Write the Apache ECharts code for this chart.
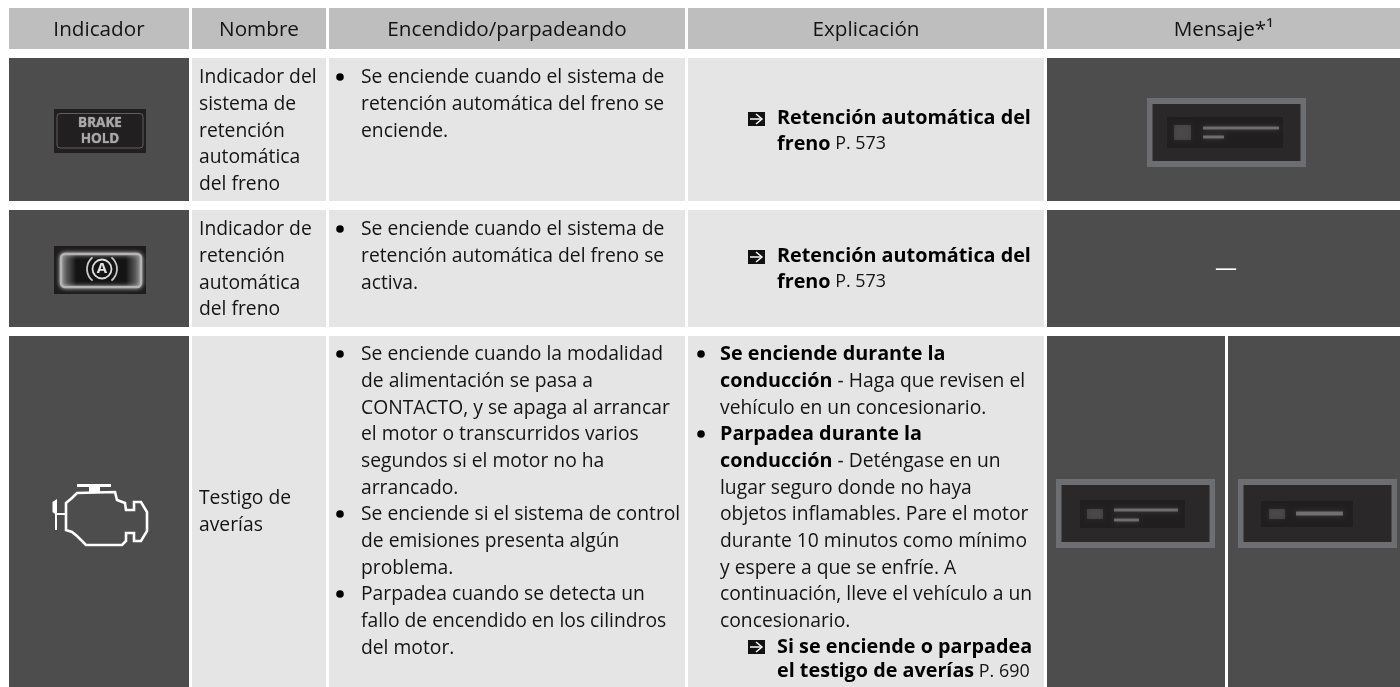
<!DOCTYPE html>
<html>
<head>
<meta charset="utf-8">
<style>html,body{margin:0;padding:0;background:#fff}#container{width:1400px;height:687px}</style>
<script src="https://cdn.jsdelivr.net/npm/echarts@6/dist/echarts.min.js"></script>
</head>
<body>
<div id="container"></div>
<script>
var headers = ["Indicador", "Nombre", "Encendido/parpadeando", "Explicación", "Mensaje*¹"];

var nameLines = [
    ["Indicador del", "sistema de", "retención", "automática", "del freno"],
    ["Indicador de", "retención", "automática", "del freno"],
    ["Testigo de", "averías"]
];

var conditionItems = [
    [["Se enciende cuando el sistema de", "retención automática del freno se", "enciende."]],
    [["Se enciende cuando el sistema de", "retención automática del freno se", "activa."]],
    [
        ["Se enciende cuando la modalidad", "de alimentación se pasa a", "CONTACTO, y se apaga al arrancar", "el motor o transcurridos varios", "segundos si el motor no ha", "arrancado."],
        ["Se enciende si el sistema de control", "de emisiones presenta algún", "problema."],
        ["Parpadea cuando se detecta un", "fallo de encendido en los cilindros", "del motor."]
    ]
];

var explanationRefs = [
    ["{b|Retención automática del}", "{b|freno}{s| P. 573}"],
    ["{b|Retención automática del}", "{b|freno}{s| P. 573}"]
];

var explanationItems = [
    ["{b|Se enciende durante la}", "{b|conducción}{n| - Haga que revisen el}", "{n|vehículo en un concesionario.}"],
    ["{b|Parpadea durante la}", "{b|conducción}{n| - Deténgase en un}", "{n|lugar seguro donde no haya}", "{n|objetos inflamables. Pare el motor}", "{n|durante 10 minutos como mínimo}", "{n|y espere a que se enfríe. A}", "{n|continuación, lleve el vehículo a un}", "{n|concesionario.}"]
];
var explanationRef3 = ["{b|Si se enciende o parpadea}", "{b|el testigo de averías}{s| P. 690}"];

var noMessage = "—";
var iconLabel = ["BRAKE", "HOLD"];
var iconLetter = "A";

// layout of the page, in pixels
var colX = [[9, 189], [192, 326], [329, 685], [688, 1044], [1047, 1400]];
var rowY = [[58, 201], [210, 327], [336, 687]];
var headY = [8, 49];
var lineH = 26.67;
var fontName = '"Open Sans"';
var textSize = 19.3;
var headSize = 20.7;
var textDrop = 0.7;

var dark = "#4d4d4d", light = "#e5e5e5", head = "#bebebe", ink = "#141414";
var frame = "#6d6e71", screen = "#2b2829", patch = "#201e1f";

var shapes = [];
var texts = [];

function box(x0, y0, x1, y1, fill) {
    shapes.push({kind: "rect", x0: x0, y0: y0, x1: x1, y1: y1, fill: fill});
}
function label(text, x, y, align, size, color, extra) {
    var t = {text: text, x: x, y: y, align: align || "left", size: size || textSize, color: color || ink};
    for (var k in extra) {
        t[k] = extra[k];
    }
    texts.push(t);
}
function bodyLabel(text, x, y) {
    label(text, x, y + textDrop);
}
function dot(x, y) {
    shapes.push({kind: "circle", x: x, y: y, r: 3.8, fill: "#000"});
}
function refArrow(x, y) {
    box(x, y, x + 17, y + 14, "#111");
    shapes.push({kind: "line", pts: [[x + 2, y + 7], [x + 14, y + 7]], stroke: "#fff", width: 1.5});
    shapes.push({kind: "line", pts: [[x + 8, y + 2], [x + 14, y + 7], [x + 8, y + 12]], stroke: "#fff", width: 1.5});
}
function messageFrame(x0, y0, x1, y1) {
    box(x0, y0, x1, y1, frame);
    box(x0 + 5.5, y0 + 6, x1 - 5.5, y1 - 6, screen);
}
function smudge(x0, y0, x1, y1, alpha) {
    shapes.push({kind: "rect", x0: x0, y0: y0, x1: x1, y1: y1, fill: "rgba(200,200,200," + alpha + ")", blur: 5, glow: "rgba(200,200,200,0.5)"});
}

// header and body cells
for (var c = 0; c < 5; c++) {
    box(colX[c][0], headY[0], colX[c][1], headY[1], head);
    label(headers[c], (colX[c][0] + colX[c][1]) / 2, 30.5, "center", headSize);
    for (var r = 0; r < 3; r++) {
        if (c == 4 && r == 2) {
            box(1047, rowY[r][0], 1225, rowY[r][1], dark);
            box(1228, rowY[r][0], 1400, rowY[r][1], dark);
        } else {
            box(colX[c][0], rowY[r][0], colX[c][1], rowY[r][1], (c == 0 || c == 4) ? dark : light);
        }
    }
}

// names
var nameTop = [77, 229, 498];
for (var i = 0; i < nameLines.length; i++) {
    for (var j = 0; j < nameLines[i].length; j++) {
        bodyLabel(nameLines[i][j], 199, nameTop[i] + j * lineH);
    }
}

// on / flashing column
var condTop = [77, 229, 354];
for (var i = 0; i < conditionItems.length; i++) {
    var n = 0;
    for (var j = 0; j < conditionItems[i].length; j++) {
        dot(340, condTop[i] + n * lineH);
        for (var k = 0; k < conditionItems[i][j].length; k++) {
            bodyLabel(conditionItems[i][j][k], 361, condTop[i] + n * lineH);
            n++;
        }
    }
}

// explanation column
var refTop = [118, 256];
for (var i = 0; i < explanationRefs.length; i++) {
    refArrow(748, refTop[i] - 6);
    bodyLabel(explanationRefs[i][0], 777, refTop[i]);
    bodyLabel(explanationRefs[i][1], 777, refTop[i] + 25.5);
}
var n = 0;
for (var i = 0; i < explanationItems.length; i++) {
    dot(701, 354 + n * lineH);
    for (var j = 0; j < explanationItems[i].length; j++) {
        bodyLabel(explanationItems[i][j], 720, 354 + n * lineH);
        n++;
    }
}
refArrow(748, 640);
bodyLabel(explanationRef3[0], 777, 647);
bodyLabel(explanationRef3[1], 777, 671);

// brake hold icon
box(54, 109, 146, 153, "#221f20");
shapes.push({kind: "round", x0: 57, y0: 113.5, x1: 143, y1: 148, r: 3, stroke: "#5f5f5f", width: 1});
label(iconLabel[0], 100, 123, "center", 13.5, "#a8a8a8", {bold: true, blur: 1});
label(iconLabel[1], 100, 139, "center", 13.5, "#a8a8a8", {bold: true, blur: 1});

// auto hold icon
box(54, 246, 146, 294, "#1e1c1d");
shapes.push({kind: "round", x0: 61, y0: 254, x1: 141, y1: 287, r: 4, stroke: "#b4b4b4", width: 2.5, blur: 4,
    fill: {type: "linear", x: 0, y: 0, x2: 1, y2: 0, colorStops: [
        {offset: 0, color: "#8a8a8a"}, {offset: 0.2, color: "#141414"}, {offset: 0.8, color: "#141414"}, {offset: 1, color: "#8a8a8a"}
    ]}});
shapes.push({kind: "circle", x: 102, y: 269, r: 9.5, stroke: "#dcdcdc", width: 1.8});
shapes.push({kind: "arc", x: 102, y: 269, r: 15, a0: 2.25, a1: 4.03, stroke: "#c8c8c8", width: 1.8});
shapes.push({kind: "arc", x: 102, y: 269, r: 15, a0: -0.89, a1: 0.89, stroke: "#c8c8c8", width: 1.8});
label(iconLetter, 102, 269, "center", 15, "#e4e4e4", {bold: true});

// engine icon
box(77, 484, 111, 487, "#fff");
box(89, 485, 100, 492, "#fff");
shapes.push({kind: "line", closed: true, stroke: "#fff", width: 2.6, pts: [
    [66, 503], [72, 498], [77, 493], [115, 492], [117, 500], [125, 503], [126, 510], [134, 510], [134, 502], [141, 502],
    [147, 512], [147, 531], [141, 541], [134, 541], [134, 533], [126, 533], [126, 541], [122, 545], [86, 545], [77, 536], [72, 532], [66, 530]
]});
shapes.push({kind: "poly", fill: "#fff", pts: [[52.5, 502], [57, 499], [57, 530], [55, 530], [55, 514], [52.5, 512]]});
box(55, 513, 65, 515, "#fff");

// message column
messageFrame(1147, 98, 1306, 167);
box(1167, 117, 1283, 148, patch);
smudge(1174, 125, 1191, 140, 0.18);
smudge(1203, 126.5, 1279, 129.5, 0.42);
smudge(1203, 135.5, 1224, 138.5, 0.42);
label(noMessage, 1226, 269, "center", 22, "#fff");
messageFrame(1056, 479, 1215, 548);
box(1080, 500, 1185, 528, patch);
smudge(1087, 509, 1103, 519, 0.18);
smudge(1114, 508.5, 1178, 511.5, 0.42);
smudge(1114, 518.5, 1139, 521.5, 0.42);
messageFrame(1238, 479, 1397, 548);
box(1261, 501, 1353, 527, patch);
smudge(1269, 509, 1285, 519, 0.18);
smudge(1296, 511.5, 1343, 515.5, 0.42);

function renderShape(params, api) {
    var s = shapes[params.dataIndex];
    var style = {fill: s.fill || "none", stroke: s.stroke || "none", lineWidth: s.width || 0};
    if (s.blur) {
        style.shadowBlur = s.blur;
        style.shadowColor = s.glow || s.stroke || s.fill;
    }
    if (s.kind == "rect" || s.kind == "round") {
        var a = api.coord([s.x0, s.y0]);
        var b = api.coord([s.x1, s.y1]);
        return {type: "rect", shape: {x: a[0], y: a[1], width: b[0] - a[0], height: b[1] - a[1], r: s.r || 0}, style: style};
    }
    if (s.kind == "circle") {
        var p = api.coord([s.x, s.y]);
        return {type: "circle", shape: {cx: p[0], cy: p[1], r: s.r}, style: style};
    }
    if (s.kind == "arc") {
        var p = api.coord([s.x, s.y]);
        return {type: "arc", shape: {cx: p[0], cy: p[1], r: s.r, startAngle: s.a0, endAngle: s.a1}, style: style};
    }
    var pts = s.pts.map(function (q) { return api.coord(q); });
    if (s.kind == "poly" || s.closed) {
        return {type: "polygon", shape: {points: pts}, style: style};
    }
    return {type: "polyline", shape: {points: pts}, style: style};
}

function renderText(params, api) {
    var t = texts[params.dataIndex];
    var p = api.coord([t.x, t.y]);
    var style = {
        x: p[0], y: p[1], text: t.text, align: t.align, verticalAlign: "middle",
        font: (t.bold ? "bold " : "") + t.size + "px " + fontName,
        fill: t.color,
        rich: {
            b: {fontFamily: fontName, fontSize: t.size + 0.5, fontWeight: "bold", fill: "#000"},
            n: {fontFamily: fontName, fontSize: t.size, fill: t.color},
            s: {fontFamily: fontName, fontSize: t.size - 1.4, fill: t.color}
        }
    };
    if (t.blur) {
        style.textShadowBlur = t.blur;
        style.textShadowColor = t.color;
    }
    return {type: "text", style: style};
}

function indexList(list) {
    return list.map(function (_, i) { return [i, i]; });
}

var myChart = echarts.init(document.getElementById("container"));
var option = {
    animation: false,
    backgroundColor: "#fff",
    grid: {left: 0, right: 0, top: 0, bottom: 0},
    xAxis: {type: "value", min: 0, max: 1400, show: false},
    yAxis: {type: "value", min: 0, max: 687, inverse: true, show: false},
    series: [
        {type: "custom", coordinateSystem: "cartesian2d", silent: true, clip: false, renderItem: renderShape, data: indexList(shapes)},
        {type: "custom", coordinateSystem: "cartesian2d", silent: true, clip: false, renderItem: renderText, data: indexList(texts), z: 5}
    ]
};
myChart.setOption(option);
</script>
</body>
</html>
